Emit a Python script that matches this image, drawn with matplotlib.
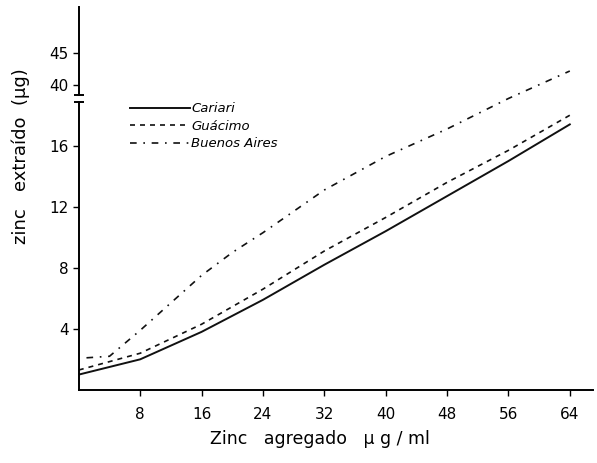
import matplotlib.pyplot as plt
import numpy as np

# data (lower y scale, ug)
x_common = [0, 8, 16, 24, 32, 40, 48, 56, 64]
cariari = [1.0, 2.0, 3.8, 5.9, 8.2, 10.4, 12.7, 15.0, 17.4]
guacimo = [1.3, 2.4, 4.3, 6.6, 9.1, 11.3, 13.6, 15.7, 18.0]

x_ba = [1, 4, 8, 12, 16, 20, 24, 32, 40, 48, 56, 64]
buenos_aires = [2.1, 2.2, 3.9, 5.7, 7.5, 9.0, 10.3, 13.1, 15.3, 17.1, 19.1, 20.9]

x_ticks = [8, 16, 24, 32, 40, 48, 56, 64]
y_ticks = [4, 8, 12, 16]
# upper (broken) part of the axis: position on the drawn scale and its label
upper_pos = [20.0, 22.1]
upper_labels = ['40', '45']

fig, ax = plt.subplots(figsize=(5.97, 4.63), dpi=100)
fig.subplots_adjust(left=0.132, right=0.993, bottom=0.158, top=0.985)

ax.plot(x_common, cariari, color='#111111', lw=1.4, ls='-', label='Cariari')
ax.plot(x_common, guacimo, color='#111111', lw=1.2, ls=(0, (3, 3)), label='Guácimo')
ax.plot(x_ba, buenos_aires, color='#111111', lw=1.2, ls=(0, (4, 4, 1, 4)), label='Buenos Aires')

ax.set_xlim(0, 67)
ax.set_ylim(0, 25.1)

ax.spines['top'].set_visible(False)
ax.spines['right'].set_visible(False)
ax.spines['left'].set_bounds(0, 18.9)
ax.spines['left'].set_linewidth(1.4)
ax.spines['bottom'].set_linewidth(1.4)

# upper piece of the broken y axis with small caps at the break
ax.plot([0, 0], [19.35, 25.1], color='black', lw=1.4, clip_on=False)
ax.plot([0, 0], [19.35, 18.9], ls='none', marker='_', ms=7, mew=1.4,
        color='black', clip_on=False)

ax.set_xticks(x_ticks)
ax.set_yticks(y_ticks + upper_pos)
ax.set_yticklabels([str(v) for v in y_ticks] + upper_labels)
ax.tick_params(axis='both', direction='out', length=4, width=1, labelsize=11)
ax.tick_params(axis='x', pad=8)

ax.set_xlabel('Zinc   agregado   μ g / ml', fontsize=12.5)
ax.xaxis.set_label_coords(0.469, -0.105)
ax.set_ylabel('zinc   extraído  (μg)', fontsize=13)
ax.yaxis.set_label_coords(-0.095, 0.611)

leg = ax.legend(loc='upper left', bbox_to_anchor=(0.09, 0.765), frameon=False,
                fontsize=9.5, handlelength=4.5, handletextpad=0.1,
                labelspacing=0.35, borderaxespad=0)
for t in leg.get_texts():
    t.set_fontstyle('italic')

plt.savefig('out.png', dpi=100)
